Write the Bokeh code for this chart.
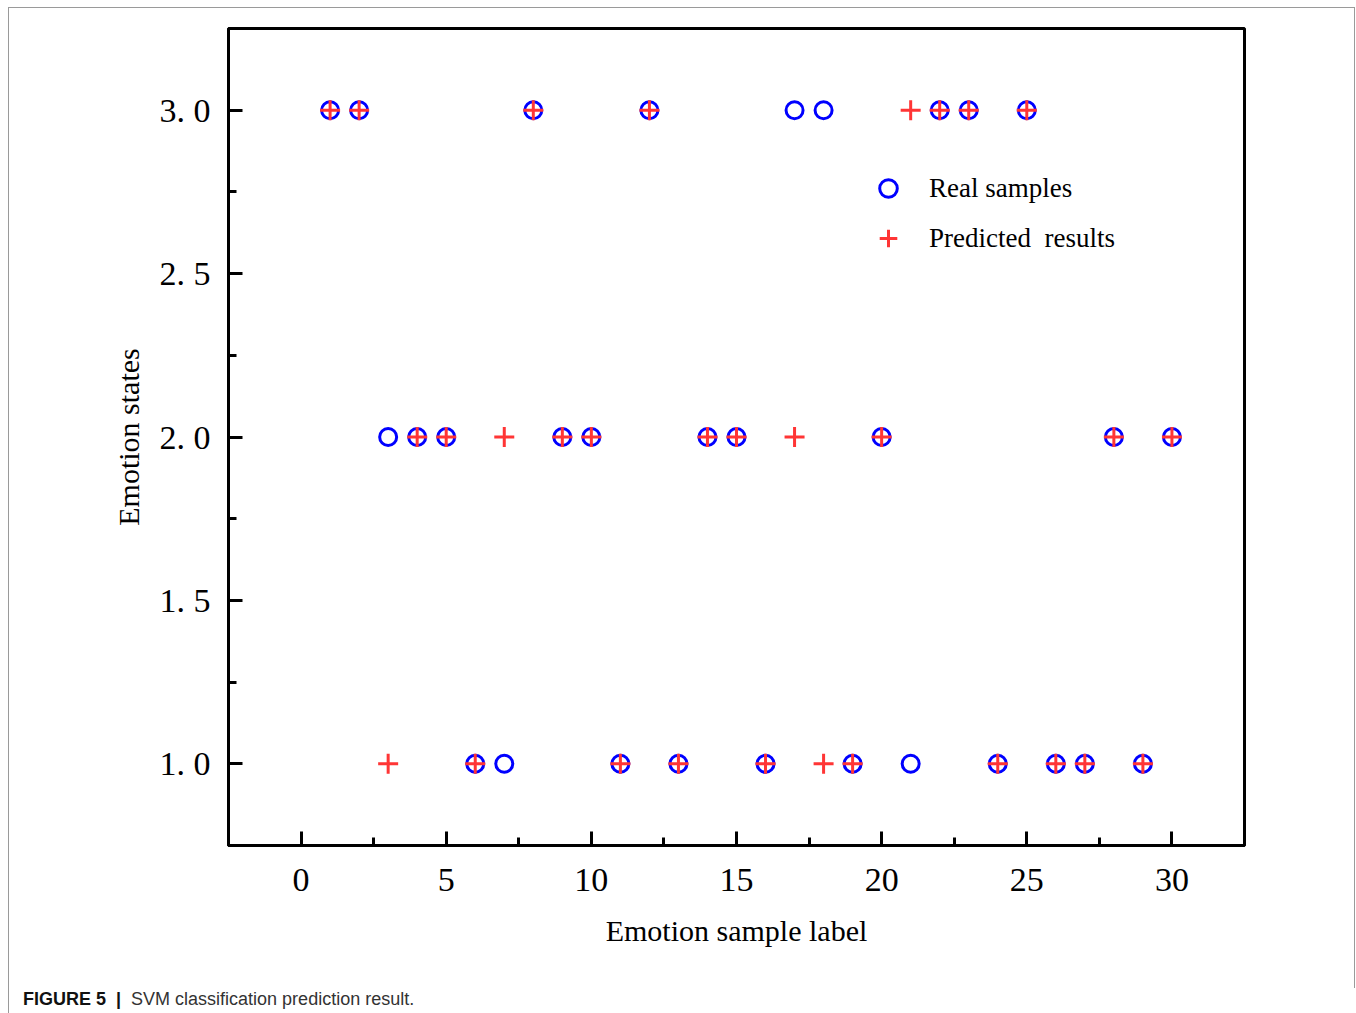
from bokeh.plotting import figure
from bokeh.models import Legend, LegendItem, FixedTicker, Div
from bokeh.layouts import column
from bokeh.embed import file_html
from bokeh.resources import INLINE

# ---- data ----
sample_label = [1, 2, 3, 4, 5, 6, 7, 8, 9, 10, 11, 12, 13, 14, 15,
                16, 17, 18, 19, 20, 21, 22, 23, 24, 25, 26, 27, 28, 29, 30]
real_samples = [3, 3, 2, 2, 2, 1, 1, 3, 2, 2, 1, 3, 1, 2, 2,
                1, 3, 3, 1, 2, 1, 3, 3, 1, 3, 1, 1, 2, 1, 2]
predicted_results = [3, 3, 1, 2, 2, 1, 2, 3, 2, 2, 1, 3, 1, 2, 2,
                     1, 2, 1, 1, 2, 3, 3, 3, 1, 3, 1, 1, 2, 1, 2]

x_ticks = [0, 5, 10, 15, 20, 25, 30]
x_minor_ticks = [-2.5, 2.5, 7.5, 12.5, 17.5, 22.5, 27.5, 32.5]
y_ticks = [1.0, 1.5, 2.0, 2.5, 3.0]
y_tick_labels = ["1. 0", "1. 5", "2. 0", "2. 5", "3. 0"]
y_minor_ticks = [0.75, 1.25, 1.75, 2.25, 2.75, 3.25]

SERIF = "Liberation Serif"
SANS = "Liberation Sans"

p = figure(width=1343, height=975, x_range=(-2.5, 32.5), y_range=(0.75, 3.25),
           output_backend="svg", toolbar_location=None,
           min_border_left=219, min_border_right=108,
           min_border_top=20, min_border_bottom=138)

p.grid.visible = False
p.outline_line_color = "black"
p.outline_line_width = 3
p.background_fill_color = "white"
p.border_fill_color = "white"

p.xaxis.ticker = FixedTicker(ticks=x_ticks, minor_ticks=x_minor_ticks)
p.yaxis.ticker = FixedTicker(ticks=y_ticks, minor_ticks=y_minor_ticks)
p.yaxis.major_label_overrides = {t: l for t, l in zip(y_ticks, y_tick_labels)}

for ax in (p.xaxis[0], p.yaxis[0]):
    ax.axis_line_width = 3
    ax.axis_line_color = "black"
    ax.major_tick_line_width = 3
    ax.minor_tick_line_width = 3
    ax.major_tick_in = 14
    ax.major_tick_out = 0
    ax.minor_tick_in = 8
    ax.minor_tick_out = 0
    ax.major_label_text_font = SERIF
    ax.major_label_text_font_size = "34px"
    ax.major_label_text_color = "black"
    ax.axis_label_text_font = SERIF
    ax.axis_label_text_font_size = "30px"
    ax.axis_label_text_font_style = "normal"
    ax.axis_label_text_color = "black"

p.xaxis.axis_label = "Emotion sample label"
p.yaxis.axis_label = "Emotion states"
p.xaxis.major_label_standoff = 23
p.yaxis.major_label_standoff = 18
p.xaxis.axis_label_standoff = 20
p.yaxis.axis_label_standoff = 12

r_real = p.scatter(sample_label, real_samples, marker="circle", size=17,
                   fill_color=None, line_color="#0000FF", line_width=3)
r_pred = p.scatter(sample_label, predicted_results, marker="cross", size=20,
                   line_color="#FF3535", line_width=3)

legend = Legend(items=[LegendItem(label="Real samples", renderers=[r_real]),
                       LegendItem(label="Predicted  results", renderers=[r_pred])],
                location=(638, 585), orientation="vertical",
                glyph_width=44, glyph_height=44, spacing=6,
                label_standoff=19, padding=0, margin=0,
                border_line_color=None, background_fill_alpha=0,
                label_text_font=SERIF, label_text_font_size="27px",
                label_text_color="black")
p.add_layout(legend, "center")

caption = Div(
    text='<span style="font-weight:bold;color:#111111">FIGURE 5&nbsp; |</span>'
         '&nbsp; SVM classification prediction result.',
    width=1343, height=29,
    styles={"font-family": SANS, "font-size": "18px", "color": "#333333",
            "padding-left": "9px", "padding-top": "0px", "line-height": "22px",
            "background-color": "white"})

layout = column(p, caption, spacing=0, margin=(7, 0, 0, 8),
                width=1347, height=1006, sizing_mode="fixed",
                styles={"border": "1px solid #9a9a9a", "border-bottom": "none",
                        "background-color": "white", "box-sizing": "border-box"})

open("out.html", "w").write(file_html(layout, INLINE))
